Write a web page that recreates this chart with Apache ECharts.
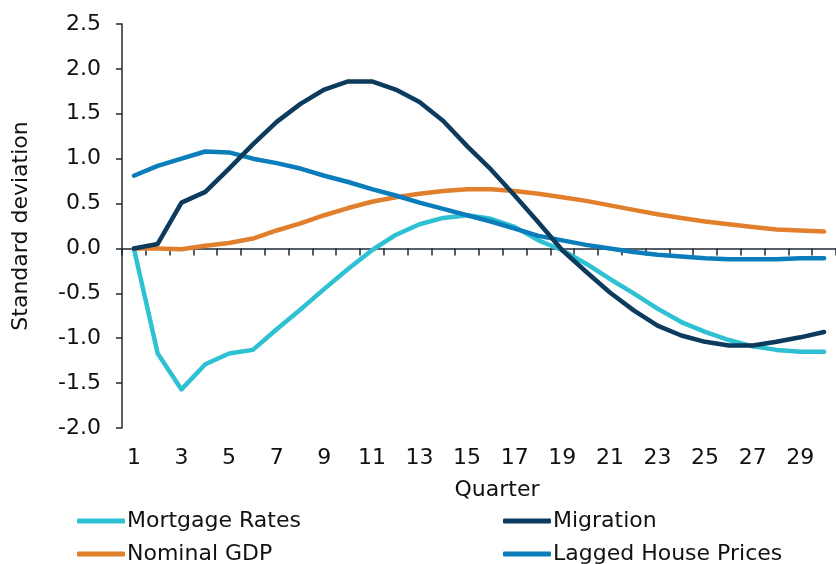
<!DOCTYPE html>
<html>
<head>
<meta charset="utf-8">
<script src="https://cdn.jsdelivr.net/npm/echarts@6/dist/echarts.min.js"></script>
<style>
  html, body { margin: 0; padding: 0; background: #fff; }
  #chart { width: 836px; height: 564px; }
</style>
</head>
<body>
<div id="chart"></div>
<script>
// data
const quarters = Array.from({ length: 30 }, (_, i) => String(i + 1));
const mortgageRates = [0, -1.17, -1.57, -1.29, -1.17, -1.13, -0.90, -0.68, -0.45, -0.23,
  -0.02, 0.15, 0.27, 0.34, 0.37, 0.33, 0.24, 0.09, -0.02, -0.17,
  -0.34, -0.50, -0.67, -0.82, -0.93, -1.02, -1.09, -1.13, -1.15, -1.15];
const migration = [0, 0.05, 0.51, 0.63, 0.89, 1.16, 1.41, 1.61, 1.77, 1.86,
  1.86, 1.77, 1.63, 1.42, 1.14, 0.88, 0.59, 0.29, -0.02, -0.26,
  -0.49, -0.69, -0.86, -0.97, -1.04, -1.08, -1.08, -1.04, -0.99, -0.93];
const nominalGDP = [0, 0.0, -0.01, 0.03, 0.06, 0.11, 0.20, 0.28, 0.37, 0.45,
  0.52, 0.57, 0.61, 0.64, 0.66, 0.66, 0.64, 0.61, 0.57, 0.53,
  0.48, 0.43, 0.38, 0.34, 0.30, 0.27, 0.24, 0.21, 0.20, 0.19];
const laggedHousePrices = [0.81, 0.92, 1.00, 1.08, 1.07, 1.00, 0.95, 0.89, 0.81, 0.74,
  0.66, 0.59, 0.51, 0.44, 0.37, 0.30, 0.22, 0.14, 0.09, 0.04,
  0.00, -0.04, -0.07, -0.09, -0.11, -0.12, -0.12, -0.12, -0.11, -0.11];

const FONT = 'DejaVu Sans';
const FS = 22;
const AXIS_COLOR = '#1f2933';
const TEXT_COLOR = '#111';

const colors = {
  'Mortgage Rates': '#2ec1d3',
  'Migration': '#0c3b5e',
  'Nominal GDP': '#e27f2d',
  'Lagged House Prices': '#0b7dba'
};

function lineSeries(name, data) {
  return {
    name,
    type: 'line',
    data,
    symbol: 'none',
    lineStyle: { width: 4.5, color: colors[name], cap: 'round', join: 'round' },
    itemStyle: { color: colors[name] }
  };
}

// two legend columns, like the reference
function legendCol(names, left) {
  return {
    data: names,
    orient: 'vertical',
    left, top: 510, height: 70,
    padding: 0,
    icon: 'roundRect',
    itemWidth: 48, itemHeight: 5, itemGap: 11,
    textStyle: { fontFamily: FONT, fontSize: FS, lineHeight: 22, color: TEXT_COLOR, padding: [0, 0, 0, -3] }
  };
}

const chart = echarts.init(document.getElementById('chart'));

chart.setOption({
  animation: false,
  textStyle: { fontFamily: FONT },
  grid: { left: 122, top: 24, width: 720, height: 404, containLabel: false },
  legend: [
    legendCol(['Mortgage Rates', 'Nominal GDP'], 77),
    legendCol(['Migration', 'Lagged House Prices'], 503)
  ],
  xAxis: [
    {
      // zero line with ticks
      type: 'category',
      data: quarters,
      boundaryGap: true,
      axisLine: { onZero: true, lineStyle: { color: AXIS_COLOR, width: 1.5 } },
      axisTick: { show: true, interval: 0, length: 7, lineStyle: { color: AXIS_COLOR, width: 1.5 } },
      axisLabel: { show: false },
      splitLine: { show: false }
    },
    {
      // labels at the bottom
      type: 'category',
      data: quarters,
      position: 'bottom',
      boundaryGap: true,
      axisLine: { show: false },
      axisTick: { show: false },
      axisLabel: { interval: 1, margin: 19, fontSize: FS, color: TEXT_COLOR, fontFamily: FONT },
      name: 'Quarter',
      nameLocation: 'middle',
      nameGap: 51,
      nameTextStyle: { fontSize: FS, color: TEXT_COLOR, fontFamily: FONT, padding: [0, 0, 0, 36] },
      splitLine: { show: false }
    }
  ],
  yAxis: {
    type: 'value',
    min: -2,
    max: 2.5,
    interval: 0.5,
    axisLine: { show: true, lineStyle: { color: AXIS_COLOR, width: 1.5 } },
    axisTick: { show: true, length: 6, lineStyle: { color: AXIS_COLOR, width: 1.5 } },
    axisLabel: {
      margin: 21, fontSize: FS, color: TEXT_COLOR, fontFamily: FONT,
      formatter: v => v.toFixed(1)
    },
    splitLine: { show: false },
    name: 'Standard deviation',
    nameLocation: 'middle',
    nameGap: 90,
    nameTextStyle: { fontSize: FS, color: TEXT_COLOR, fontFamily: FONT }
  },
  series: [
    lineSeries('Mortgage Rates', mortgageRates),
    lineSeries('Nominal GDP', nominalGDP),
    lineSeries('Lagged House Prices', laggedHousePrices),
    lineSeries('Migration', migration)
  ]
});

window.addEventListener('resize', () => chart.resize());
</script>
</body>
</html>
